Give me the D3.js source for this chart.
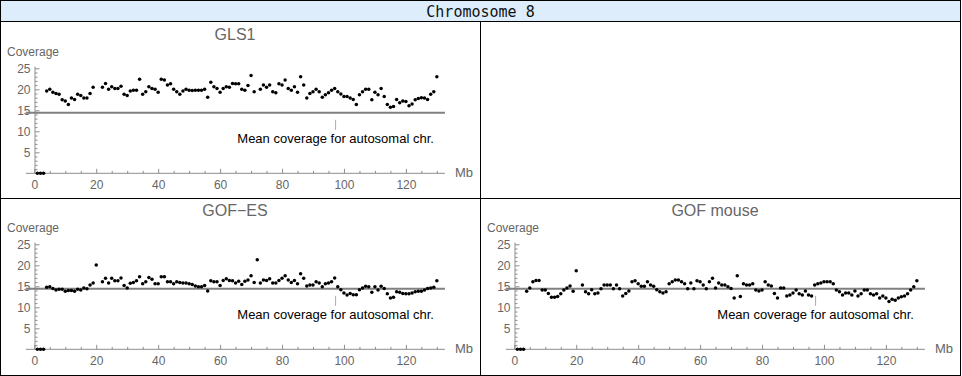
<!DOCTYPE html>
<html><head><meta charset="utf-8">
<script src="https://cdn.jsdelivr.net/npm/d3@7"></script>
<style>body{margin:0;background:#fff}svg{display:block}</style>
</head><body>
<svg id="chart" width="962" height="376"></svg>
<script>
// ---------- data ----------
const chromosome = "Chromosome 8";
const panelTitles = ["GLS1", "GOF\u2212ES", "GOF mouse"];
const binStart = 4;               // first 1-Mb bin with coverage
const zeroBins = [1, 2, 3];       // bins with zero coverage
const gls1 = [
  19.6, 20.0, 19.3, 19.0, 18.8, 17.5, 17.2, 16.4, 17.9, 17.6, 18.8, 18.5, 17.9, 17.9, 19.0, 20.5,
  null, null,
  20.5, 21.4, 20.0, 20.6, 20.2, 20.2, 20.7, 18.8, 18.5, 19.6,
  19.8, 19.8, 22.4, 18.8, 19.4, 20.6, 20.2, 20.0, 19.3, 22.4,
  22.2, 21.0, 21.3, 20.0, 19.4, 18.8, 19.6, 20.0, 19.8, 19.7,
  19.8, 19.8, 19.8, 20.0, 18.1, 21.7, 20.6, 20.2, 19.3, 20.2,
  20.6, 20.5, 21.4, 21.3, 21.3, 20.0, 19.8, 20.9, 23.3, 19.4,
  null,
  20.0, 21.0, 20.5, 21.0, 19.4, 19.2, 21.3, 21.0, 22.2, 20.2, 19.8, 20.6, 19.3, 23.0, 21.0, 17.9, 19.0,
  19.4, 20.0, 19.4, 18.1, 18.7, 19.2, 19.8, 20.2, 19.4, 18.9,
  18.3, 18.3, 17.9, 17.6, 16.4, 18.7, 19.4, 20.0, 20.0, 17.5,
  19.3, 18.7, 20.2, 18.3, 16.4, 15.7, 15.9, 17.6, 16.8, 17.2,
  17.1, 16.1, 16.5, 17.5, 17.8, 18.0, 17.9, 17.6, 18.8, 19.4,
  23.0
];
const gofES = [
  14.8, 14.9, 14.5, 14.1, 14.3, 14.3, 13.8, 14.0, 14.0, 13.8, 14.3, 14.1, 14.6, 14.4, 15.3, 15.8, 20.1,
  null,
  16.1, 16.9, 15.8, 16.9, 16.3, 16.3, 17.0, 15.2, 14.6, 15.7,
  15.9, 16.3, 17.3, 15.6, 16.1, 17.1, 16.7, 15.6, 15.6, 17.3,
  17.3, 16.1, 16.1, 15.6, 16.1, 15.9, 15.8, 15.8, 15.6, 15.4,
  15.1, 14.9, 14.9, 15.2, 13.9, 16.3, 16.1, 16.1, 15.2, 16.4,
  16.8, 16.4, 16.3, 15.8, 16.2, 15.4, 16.2, 16.5, 17.5, 15.9,
  21.3, 15.8, 16.5, 16.4, 16.8, 15.8, 15.8, 16.4, 16.9, 17.5,
  16.5, 15.9, 16.4, 15.6, 18.0, 16.9, 15.1, 15.3, 15.3, 16.1,
  15.8, 14.9, 15.6, 15.8, 16.1, 17.0, 14.9, 14.2, 13.4, 12.9,
  13.3, 13.0, 13.0, 14.2, 14.6, 15.0, 14.9, 13.6, 14.9, 14.1,
  15.0, 14.5, 13.2, 12.2, 12.4, 13.7, 13.6, 13.3, 13.2, 13.2,
  13.4, 13.7, 13.8, 13.8, 14.1, 14.5, 14.6, 14.8, 16.3
];
const gofMouse = [
  13.8, 14.6, 16.1, 16.4, 16.4, 14.1, 14.1, 13.3, 12.4, 12.4, 12.6, 13.2, 14.1, 14.6, 15.1, 13.8, 18.7,
  null,
  15.3, 13.7, 13.2, 14.2, 13.2, 13.4, 14.4, 15.3, 15.3, 15.3,
  14.4, 15.3, 14.4, 12.7, 13.3, 13.9, 16.1, 16.3, 15.6, 15.0,
  15.0, 16.1, 15.3, 15.0, 14.2, 13.7, 13.4, 13.7, 15.6, 16.1,
  16.5, 16.5, 16.1, 15.6, 14.4, 15.8, 14.4, 16.3, 16.1, 15.3,
  14.4, 16.1, 16.9, 14.6, 15.8, 15.3, 15.3, 14.9, 14.5, 12.2,
  17.5, 12.6, 15.6, 15.3, 15.3, 15.6, 14.1, 13.9, 14.1, 16.1,
  15.3, 15.1, 13.3, 12.2, 14.6, 14.6, 12.7, 12.9, 13.4, 14.1,
  13.2, 12.9, 13.9, 12.9, 12.7, 15.3, 15.6, 15.8, 16.1, 16.1,
  16.1, 15.6, 14.1, 13.7, 12.9, 13.4, 13.4, 12.9, 13.9, 12.7,
  13.2, 14.1, 14.1, 13.2, 12.9, 13.2, 12.2, 12.7, 12.2, 11.4,
  11.9, 11.7, 12.2, 12.5, 12.7, 13.2, 14.1, 14.9, 16.3
];
const meanCoverage = 14.4;
const meanLabel = "Mean coverage for autosomal chr.";
const meanLabelMb = 97.3;
const xTickValues = [0, 20, 40, 60, 80, 100, 120];
const yTickValues = [5, 10, 15, 20, 25];
const yLabel = "Coverage";
const xLabel = "Mb";

// ---------- layout ----------
const svg = d3.select("#chart");
const FONT = "'Liberation Sans', Arial, sans-serif";
const labelColor = "#666";
const axisColor = "#8e8e8e";

// header
svg.append("rect").attr("x", 0.5).attr("y", 0.5).attr("width", 960).attr("height", 21)
  .attr("fill", "#ddedfc");
svg.append("text").attr("x", 480.5).attr("y", 17).attr("text-anchor", "middle")
  .attr("font-family", "'DejaVu Sans Mono', monospace").attr("font-size", 15).attr("fill", "#111")
  .text(chromosome);

// grid frame
const frame = svg.append("g").attr("stroke", "#000").attr("stroke-width", 1).attr("fill", "none");
frame.append("rect").attr("x", 0.5).attr("y", 0.5).attr("width", 960).attr("height", 375);
frame.append("line").attr("x1", 0).attr("x2", 961).attr("y1", 21.5).attr("y2", 21.5);
frame.append("line").attr("x1", 0).attr("x2", 961).attr("y1", 198.5).attr("y2", 198.5);
frame.append("line").attr("x1", 480.5).attr("x2", 480.5).attr("y1", 21.5).attr("y2", 375.5);

const x = d3.scaleLinear().domain([0, 120]).range([34.3, 405.9]);
const y = d3.scaleLinear().domain([0, 25]).range([151.3, 46.3]);

const panels = [
  { title: panelTitles[0], values: gls1, ox: 0, oy: 22 },
  { title: panelTitles[1], values: gofES, ox: 0, oy: 198 },
  { title: panelTitles[2], values: gofMouse, ox: 480, oy: 198 }
];

panels.forEach(p => {
  const g = svg.append("g").attr("transform", `translate(${p.ox},${p.oy})`);
  const x0 = x(-2.7), x1 = x(132.6);

  g.append("text").attr("x", 235).attr("y", 18.3).attr("text-anchor", "middle")
    .attr("font-family", FONT).attr("font-size", 16).attr("fill", labelColor).text(p.title);
  g.append("text").attr("x", 7).attr("y", 34.3)
    .attr("font-family", FONT).attr("font-size", 12).attr("fill", labelColor).text(yLabel);
  g.append("text").attr("x", 455).attr("y", y(0) + 4)
    .attr("font-family", FONT).attr("font-size", 13).attr("fill", labelColor).text(xLabel);

  // axes lines
  const yAxisX = 35;
  g.append("line").attr("x1", x0).attr("x2", x1).attr("y1", y(0)).attr("y2", y(0))
    .attr("stroke", axisColor).attr("stroke-width", 1);
  g.append("line").attr("x1", yAxisX).attr("x2", yAxisX).attr("y1", y(0)).attr("y2", y(25.4))
    .attr("stroke", axisColor).attr("stroke-width", 1);

  // y axis ticks
  const yMinor = d3.range(1, 26).filter(v => v % 5 !== 0);
  const yMaj = g.append("g").attr("transform", `translate(${yAxisX},0)`)
    .call(d3.axisLeft(y).tickValues(yTickValues).tickSizeInner(-4.5).tickSizeOuter(0).tickPadding(4.5));
  const yMin = g.append("g").attr("transform", `translate(${yAxisX},0)`)
    .call(d3.axisLeft(y).tickValues(yMinor).tickSizeInner(-2.5).tickSizeOuter(0).tickFormat(""));
  // x axis ticks
  const xMinor = d3.range(5, 131, 5).filter(v => v % 20 !== 0);
  const xMaj = g.append("g").attr("transform", `translate(0,${y(0)})`)
    .call(d3.axisBottom(x).tickValues(xTickValues).tickSizeInner(-4.5).tickSizeOuter(0).tickPadding(7));
  const xMin = g.append("g").attr("transform", `translate(0,${y(0)})`)
    .call(d3.axisBottom(x).tickValues(xMinor).tickSizeInner(-2.5).tickSizeOuter(0).tickFormat(""));
  [yMaj, yMin, xMaj, xMin].forEach(a => {
    a.select(".domain").remove();
    a.selectAll("line").attr("stroke", axisColor);
    a.selectAll("text").attr("font-family", FONT).attr("font-size", 12).attr("fill", labelColor);
  });

  // mean line
  const ym = y(meanCoverage);
  g.append("line").attr("x1", x0).attr("x2", x1).attr("y1", ym).attr("y2", ym)
    .attr("stroke", "#808080").attr("stroke-width", 2);
  g.append("line").attr("x1", x(meanLabelMb)).attr("x2", x(meanLabelMb))
    .attr("y1", ym + 7).attr("y2", ym + 17).attr("stroke", "#aaa").attr("stroke-width", 1);
  g.append("text").attr("x", x(meanLabelMb)).attr("y", ym + 30.6).attr("text-anchor", "middle")
    .attr("font-family", FONT).attr("font-size", 13).attr("fill", "#000").text(meanLabel);

  // points
  const pts = p.values.map((v, i) => ({ mb: binStart + i, v })).filter(d => d.v !== null)
    .concat(zeroBins.map(mb => ({ mb, v: 0 })));
  g.append("g").selectAll("circle").data(pts).join("circle")
    .attr("cx", d => x(d.mb)).attr("cy", d => y(d.v)).attr("r", 1.75).attr("fill", "#000");
});
</script>
</body></html>
